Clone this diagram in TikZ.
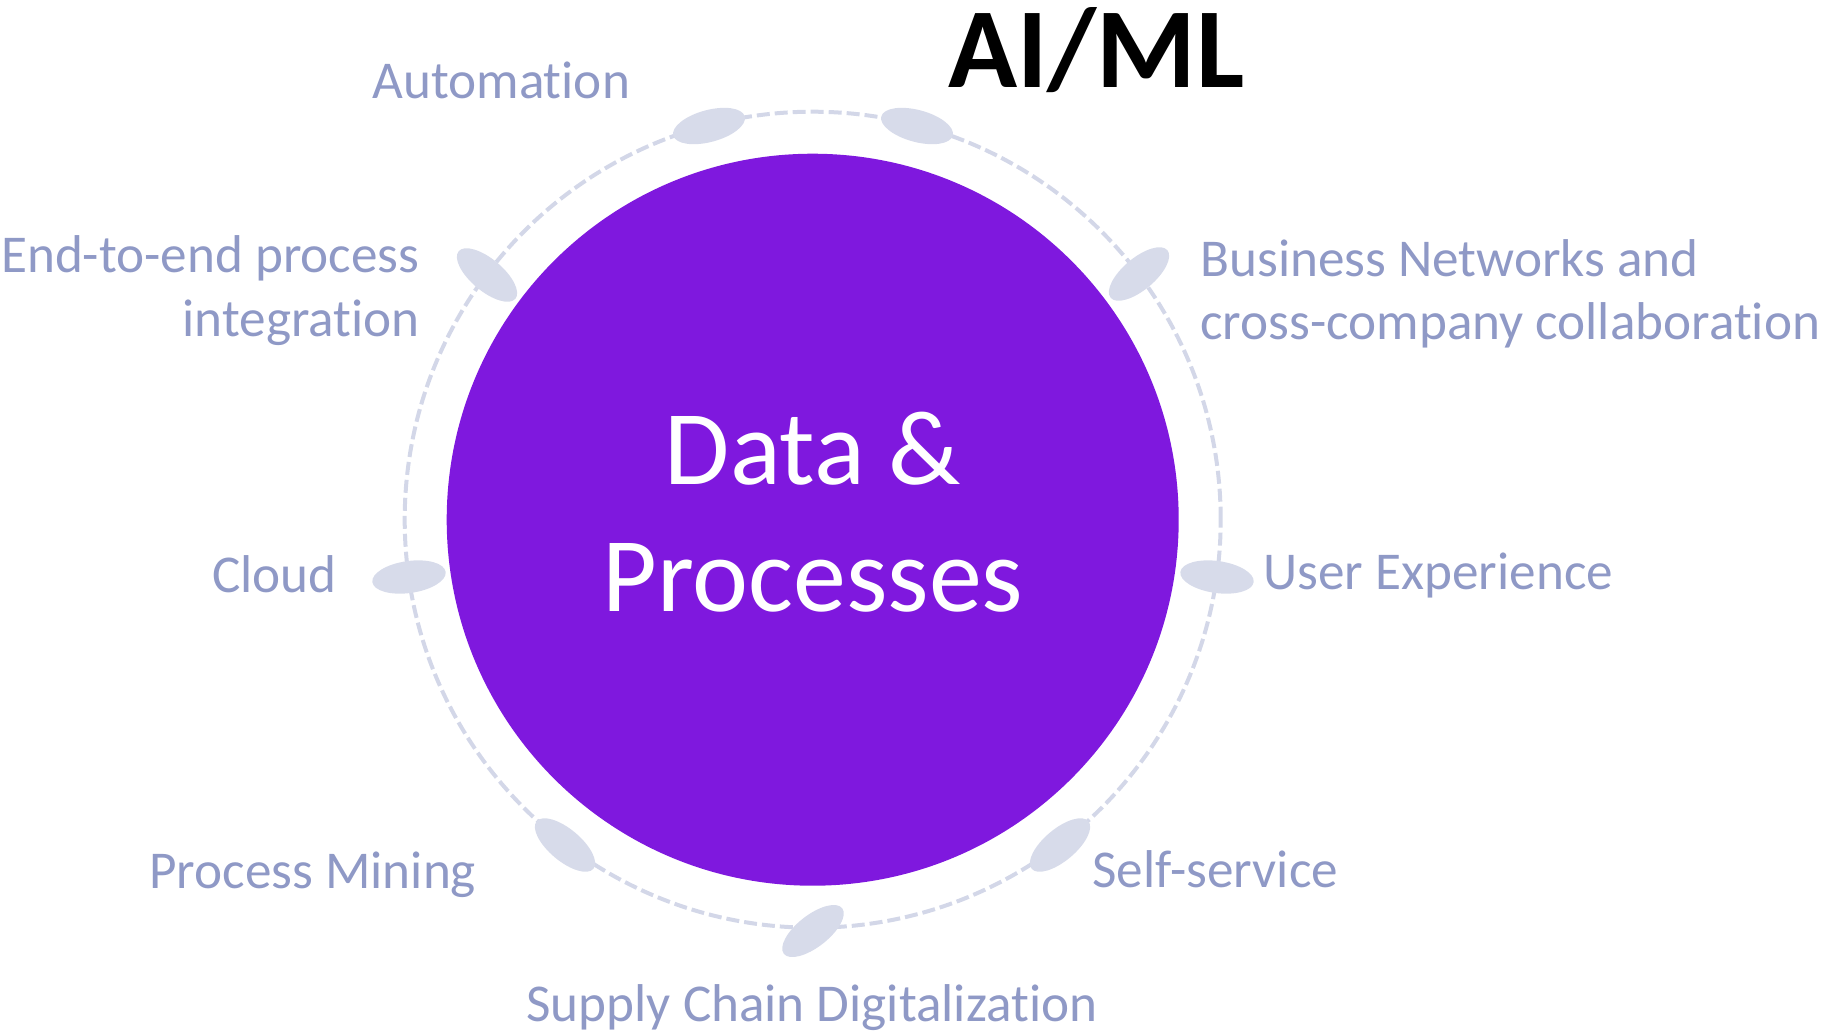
\documentclass[tikz,border=0pt]{standalone}
\usepackage{fontspec}
\setmainfont{Carlito}[Ligatures={NoCommon}]
\usetikzlibrary{shapes.geometric}
\definecolor{purp}{HTML}{7F18DE}
\definecolor{lblc}{HTML}{8F99C6}
\definecolor{discfill}{HTML}{D7DBEA}
\definecolor{ringc}{HTML}{D3D7E8}
\begin{document}
\begin{tikzpicture}[x=0.5pt,y=-0.5pt,
  lab/.style={text=lblc, font=\fontsize{26.6}{31}\selectfont, inner sep=0pt},
  disc/.style={ellipse, fill=discfill, minimum width=37pt, minimum height=16pt, inner sep=0pt},
  coretext/.style={text=white, font=\fontsize{53}{62}\selectfont, inner sep=0pt, anchor=base}]
\useasboundingbox (0,0) rectangle (1823,1030);
\coordinate (c) at (812.7,519.7);
\draw[ringc, line width=2pt, dash pattern=on 6.5pt off 2.5pt] (c) circle[radius=204pt];
\node[circle, fill=purp, minimum size=366pt, inner sep=0pt] (core) at (c) {};
\node[coretext] (t1) at (813,484) {Data \&};
\node[coretext] (t2) at (813,611) {Processes};
% discs
\node[disc, rotate=15]  (d1) at (709,126) {};
\node[disc, rotate=-15] (d2) at (917,126) {};
\node[disc, rotate=-40] (d3) at (487,275) {};
\node[disc, rotate=40]  (d4) at (1139,274) {};
\node[disc, rotate=8]   (d5) at (409,577) {};
\node[disc, rotate=-8]  (d6) at (1217,577) {};
\node[disc, rotate=-40] (d7) at (565,845) {};
\node[disc, rotate=40]  (d8) at (1060,845) {};
\node[disc, rotate=38]  (d9) at (813,931) {};
% labels
\node[anchor=base west, inner sep=0pt, font=\fontsize{57}{62}\selectfont\bfseries] (aiml) at (948,87) {AI/ML};
\node[lab, anchor=base west] (l1) at (372,98) {Automation};
\node[lab, anchor=base east] (l3a) at (420,272) {End-to-end process};
\node[lab, anchor=base east] (l3b) at (420,336) {integration};
\node[lab, anchor=base west] (l4a) at (1200,276) {Business Networks and};
\node[lab, anchor=base west] (l4b) at (1200,339) {cross-company collaboration};
\node[lab, anchor=base west] (l5) at (212,592) {Cloud};
\node[lab, anchor=base west] (l6) at (1263,589) {User Experience};
\node[lab, anchor=base west] (l7) at (149,888) {Process Mining};
\node[lab, anchor=base west] (l8) at (1092,887) {Self-service};
\node[lab, anchor=base] (l9) at (812,1021) {Supply Chain Digitalization};
\end{tikzpicture}
\end{document}
